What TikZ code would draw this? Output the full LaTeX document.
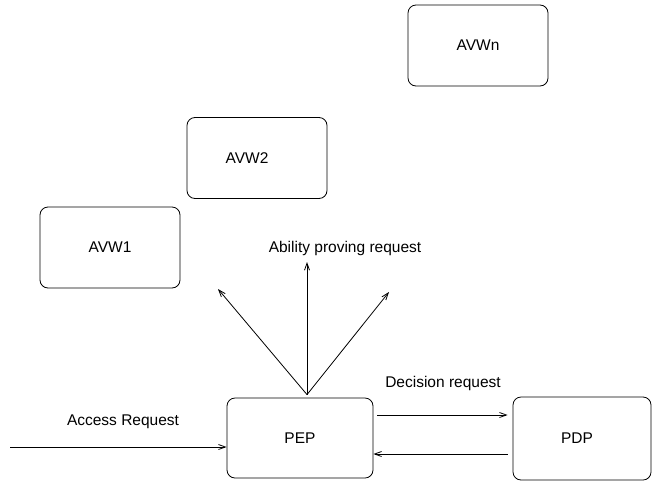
\documentclass[tikz,border=0pt]{standalone}
\usepackage{fontspec}
\setmainfont{Liberation Sans}
\usetikzlibrary{arrows.meta,calc}

\tikzset{
    avwbox/.style={draw, rounded corners=8pt, line width=0.8pt, minimum width=140pt, minimum height=81pt, font=\fontsize{15.5}{18}\selectfont},
    lbl/.style={font=\fontsize{15.5}{18}\selectfont},
    flow/.style={line width=0.8pt, -{Straight Barb[length=7pt,width=5pt]}}
}

\begin{document}
\begin{tikzpicture}[x=1pt, y=-1pt]
    % Page
    \useasboundingbox (0,0) rectangle (652,482);

    % Ability verifiers
    \node[avwbox] (avwn) at (478,45.5) {AVWn};
    \node[avwbox] (avw2) at (257,158) {\hspace*{-20pt}AVW2};
    \node[avwbox] (avw1) at (110,247.5) {AVW1};

    % Enforcement and decision points
    \node[avwbox, minimum width=146pt, minimum height=80pt] (pep) at (300,438) {PEP};
    \node[avwbox, minimum width=138pt, minimum height=83pt] (pdp) at (582,438.5) {\hspace*{-10pt}PDP};

    % Ability proving requests
    \coordinate (apex) at ([xshift=7pt, yshift=3pt]pep.north);
    \coordinate (tipl) at (218,289);
    \coordinate (tipm) at (307,262);
    \coordinate (tipr) at (389,292);
    \draw[flow] (apex) -- (tipl);
    \draw[flow] (apex) -- (tipm);
    \draw[flow] (apex) -- (tipr);
    \node[lbl] (ability) at (345,248) {Ability proving request};

    % Decision request and answer
    \draw[flow] ([xshift=4pt, yshift=23pt]pep.east) -- ([xshift=-5pt, yshift=23.5pt]pdp.west);
    \draw[flow] ([xshift=-5pt, yshift=-15.5pt]pdp.west) -- ([yshift=-16pt]pep.east);
    \node[lbl] (decision) at (443,383) {Decision request};

    % Access request
    \coordinate (src) at (10,447);
    \draw[flow] (src) -- (src -| pep.west);
    \node[lbl] (access) at (123,422) {Access Request};
\end{tikzpicture}
\end{document}
